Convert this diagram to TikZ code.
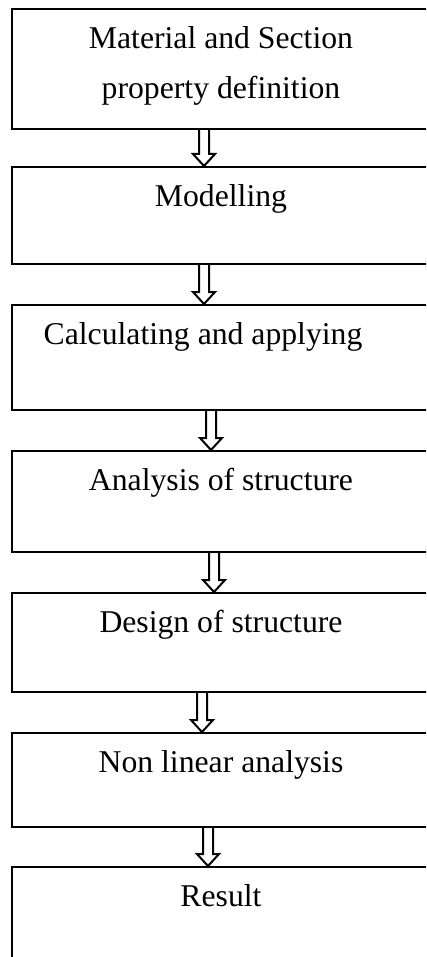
\documentclass[tikz,border=0pt]{standalone}
\usepackage{fontspec}
\setmainfont{Liberation Serif}
\usetikzlibrary{calc}

\begin{document}
\begin{tikzpicture}[x=1pt,y=-1pt]
        \tikzset{stepbox/.style={draw,line width=2.1pt,minimum width=418pt,
            inner sep=0pt,anchor=north,text height=39pt,
            font=\fontsize{31.7}{50}\selectfont}}
        \tikzset{hollow/.style={draw,line width=2pt,line join=miter}}

        \useasboundingbox (0,0) rectangle (426,957);
        \clip (0,0) rectangle (426,957);

        %% The boxes run off the right and bottom edge of the page, so
        %% they are simply cut by the clip.  Text height 39pt puts every
        %% first baseline at the same place under the top line.
        \node[stepbox,text depth=81pt] (matdef) at (221,8)
          {\parbox[t]{400pt}{\centering Material and Section\\property definition}};
        \node[stepbox,text depth=58pt] (model) at (221,166) {Modelling};
        \node[stepbox,text depth=66pt] (calc) at (221,304)
          {\hspace*{-36pt}Calculating and applying};
        \node[stepbox,text depth=62pt] (analysis) at (221,450) {Analysis of structure};
        \node[stepbox,text depth=60pt] (design) at (221,592) {Design of structure};
        \node[stepbox,text depth=55pt] (nonlin) at (221,732) {Non linear analysis};
        \node[stepbox,text depth=91pt] (result) at (221,866) {Result};

        %% Hollow arrows, not quite under the centre of the boxes
        \foreach \from/\to/\dx in {matdef/model/-17, model/calc/-17,
            calc/analysis/-10, analysis/design/-7, design/nonlin/-19,
            nonlin/result/-13} {%
          \draw[hollow] let \p1=([xshift=\dx]\from.south),
                            \p2=([xshift=\dx]\to.north) in
            (\x1-5pt,\y1) -- (\x1-5pt,\y2+12pt) -- (\x1-11pt,\y2+12pt)
            -- (\x2,\y2) -- (\x1+11pt,\y2+12pt) -- (\x1+5pt,\y2+12pt)
            -- (\x1+5pt,\y1);
        }

\end{tikzpicture}
\end{document}
